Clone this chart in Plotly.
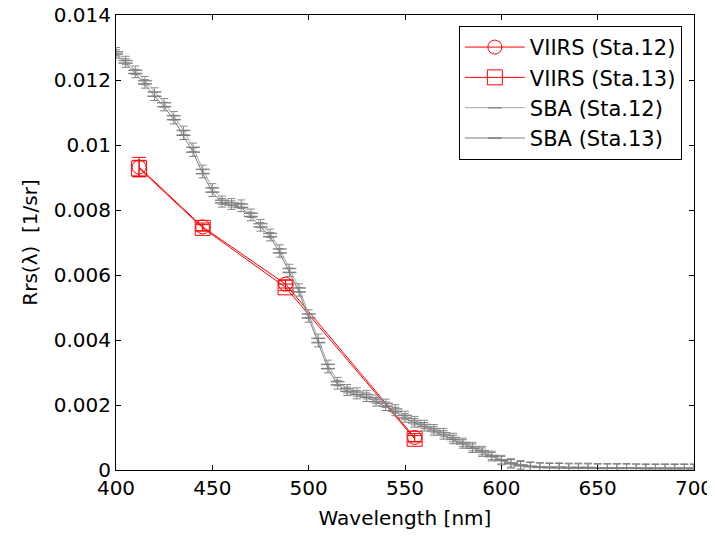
import plotly.graph_objects as go

# VIIRS bands and values
viirs_wl = [412, 445, 488, 555]
viirs_sta12 = [0.00932, 0.00748, 0.00572, 0.00100]
viirs_sta13 = [0.00928, 0.00745, 0.00562, 0.00096]
viirs_err12 = [0.00030, 0.00012, 0.00012, 0.00012]
viirs_err13 = [0.00025, 0.00010, 0.00010, 0.00010]

# SBA spectra
sba_wl = list(range(400, 705, 5))
sba_sta12 = [0.01287, 0.01260, 0.01230, 0.01198, 0.01163, 0.01130, 0.01090, 0.01045,
             0.00993, 0.00925, 0.00868, 0.00830, 0.00822, 0.00818, 0.00790, 0.00758,
             0.00728, 0.00680, 0.00620, 0.00560, 0.00480, 0.00405, 0.00325, 0.00272,
             0.00250, 0.00240, 0.00232, 0.00218, 0.00205, 0.00188, 0.00168, 0.00152,
             0.00140, 0.00127, 0.00115, 0.00100, 0.00085, 0.00072, 0.00060, 0.00045,
             0.00032, 0.00022, 0.00016, 0.00012, 0.00010, 0.00009, 0.00009, 0.00008,
             0.00008, 0.00008, 0.00007, 0.00007, 0.00007, 0.00007, 0.00006, 0.00006,
             0.00006, 0.00006, 0.00006, 0.00006, 0.00006]
sba_sta13 = [0.01280, 0.01252, 0.01220, 0.01188, 0.01150, 0.01118, 0.01078, 0.01030,
             0.00978, 0.00912, 0.00855, 0.00822, 0.00815, 0.00808, 0.00780, 0.00748,
             0.00718, 0.00668, 0.00608, 0.00548, 0.00468, 0.00392, 0.00312, 0.00262,
             0.00242, 0.00232, 0.00224, 0.00210, 0.00196, 0.00180, 0.00160, 0.00145,
             0.00133, 0.00120, 0.00108, 0.00094, 0.00080, 0.00067, 0.00055, 0.00041,
             0.00029, 0.00019, 0.00013, 0.00010, 0.00008, 0.00007, 0.00007, 0.00006,
             0.00006, 0.00006, 0.00005, 0.00005, 0.00005, 0.00005, 0.00005, 0.00004,
             0.00004, 0.00004, 0.00004, 0.00004, 0.00004]
sba_err = 0.00013

x_ticks = [400, 450, 500, 550, 600, 650, 700]
y_ticks = [0, 0.002, 0.004, 0.006, 0.008, 0.01, 0.012, 0.014]
y_ticktext = ["0", "0.002", "0.004", "0.006", "0.008", "0.01", "0.012", "0.014"]

FONT = "DejaVu Sans, Liberation Sans, Arial"

fig = go.Figure()

fig.add_trace(go.Scatter(
    x=viirs_wl, y=viirs_sta12, name="VIIRS (Sta.12)", mode="lines+markers",
    line=dict(color="red", width=1),
    marker=dict(symbol="circle-open", size=14, color="red", line=dict(width=1)),
    error_y=dict(type="data", array=viirs_err12, color="red", thickness=1, width=7)))
fig.add_trace(go.Scatter(
    x=viirs_wl, y=viirs_sta13, name="VIIRS (Sta.13)", mode="lines+markers",
    line=dict(color="red", width=1),
    marker=dict(symbol="square-open", size=15, color="red", line=dict(width=1)),
    error_y=dict(type="data", array=viirs_err13, color="red", thickness=1, width=7)))
fig.add_trace(go.Scatter(
    x=sba_wl, y=sba_sta12, name="SBA (Sta.12)", mode="lines+markers",
    line=dict(color="#a8a8a8", width=1),
    marker=dict(symbol="line-ew-open", size=10, color="#8c8c8c", line=dict(width=1.5)),
    error_y=dict(type="constant", value=sba_err, color="#8c8c8c", thickness=1, width=4)))
fig.add_trace(go.Scatter(
    x=sba_wl, y=sba_sta13, name="SBA (Sta.13)", mode="lines+markers",
    line=dict(color="#808080", width=1),
    marker=dict(symbol="line-ew-open", size=10, color="#808080", line=dict(width=1.5)),
    error_y=dict(type="constant", value=sba_err, color="#808080", thickness=1, width=4)))

axis_common = dict(showline=True, linecolor="black", linewidth=1, mirror="allticks",
                   ticks="inside", ticklen=5, tickcolor="black", showgrid=False,
                   zeroline=False, automargin=False, ticklabeloverflow="allow",
                   tickfont=dict(family=FONT, size=20, color="black"))

fig.update_layout(
    width=707, height=529,
    margin=dict(l=108, r=21, t=7, b=67),
    paper_bgcolor="white", plot_bgcolor="white",
    font=dict(family=FONT, size=20, color="black"),
    xaxis=dict(range=[400, 700], tickvals=x_ticks,
               title=dict(text="Wavelength [nm]", font=dict(size=20), standoff=11),
               **axis_common),
    yaxis=dict(range=[0, 0.014], tickvals=y_ticks, ticktext=y_ticktext,
               title=dict(text="Rrs(λ)  [1/sr]", font=dict(size=20), standoff=10),
               **axis_common),
    legend=dict(x=0.979, y=0.976, xanchor="right", yanchor="top",
                bgcolor="white", bordercolor="black", borderwidth=1,
                font=dict(size=21), itemwidth=60),
    showlegend=True,
)

fig.write_html("out.html")
